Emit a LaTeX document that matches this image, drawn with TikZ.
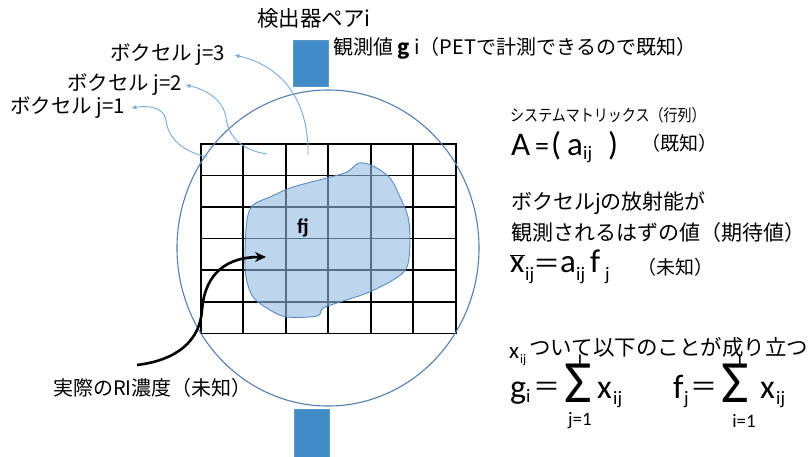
\documentclass[tikz,border=0pt]{standalone}
\usepackage{fontspec}
\setmainfont{Carlito}
\newfontfamily\jp{Noto Sans CJK JP}
\newfontfamily\jpn[FakeStretch=0.85]{Noto Sans CJK JP}
\usetikzlibrary{arrows.meta}
\definecolor{detblue}{RGB}{64,140,200}
\definecolor{detline}{RGB}{95,150,200}
\definecolor{ringblue}{RGB}{84,128,178}
\definecolor{arrblue}{RGB}{120,170,220}
\definecolor{blobfill}{RGB}{145,188,227}
\definecolor{blobline}{RGB}{90,140,190}
\newcommand\setfs[1]{\fontsize{#1}{#1}\selectfont}
\begin{document}
\begin{tikzpicture}[x=1pt,y=-1pt,
  lbl/.style={inner sep=0pt, anchor=west},
  bw/.style={inner sep=0pt, anchor=base west},
  detector/.style={draw=detline, fill=detblue, line width=0.6pt, minimum width=35pt, minimum height=46pt, inner sep=0pt},
  gridline/.style={line width=1.6pt, black, line cap=rect},
  bluearr/.style={arrblue, line width=0.9pt, -{Latex[length=5pt,width=4.5pt]}},
  sig/.style={inner sep=0pt, anchor=base, text height=27pt, text depth=0pt}
]
\useasboundingbox (0,0) rectangle (810,456);
\fill[white] (0,0) rectangle (810,456);

% detectors
\node[detector] (dettop) at (311,63.7) {};
\node[detector, minimum height=48pt] (detbot) at (311.5,433) {};

% grid
\foreach \i in {0,...,6} \draw[gridline] ({200.7+\i*42.5},144) -- ({200.7+\i*42.5},333.3);
\foreach \j in {0,...,6} \draw[gridline] (200.7,{144+\j*31.55}) -- (455.7,{144+\j*31.55});

% blob
\draw[blobline, line width=0.9pt, fill=blobfill, fill opacity=0.6]
  plot[smooth cycle, tension=0.55] coordinates {(359,163) (373,166) (390,178) (400,197) (408,217) (410,240) (407,267) (393,280) (367,293) (340,302) (323,308) (317,316) (287,317) (270,310) (253,297) (246,277) (245,253) (247,220) (253,205) (270,197) (293,187) (327,178) (347,172)};

% ring
\draw[ringblue, line width=1.1pt] (328,248) ellipse [x radius=151pt, y radius=158pt];

% labels (left / top)
\node[lbl] (dettxt) at (257,18) {\jp\setfs{21.5}検出器ペアi};
\node[lbl] (obs) at (333,48) {\jp\setfs{20}観測値 {\bfseries g} i（PETで計測できるので既知）};
\node[lbl] (v3) at (110,55) {\jp\setfs{20.5}ボクセル j=3};
\node[lbl] (v2) at (67,85) {\jp\setfs{20.5}ボクセル j=2};
\node[lbl] (v1) at (10,108) {\jp\setfs{20.5}ボクセル j=1};
\node[lbl] (ri) at (53,388) {\jp\setfs{20}実際のRI濃度（未知）};
\node[inner sep=0pt] (fj) at (303,228) {\setfs{21}\bfseries fj};

% blue arrows from voxels
\coordinate (s1) at (207,157);
\coordinate (s2) at (267,154);
\coordinate (s3) at (308,155);
\draw[bluearr] (s1) .. controls (185,152) and (168,140) .. (166,120) .. controls (164,108) and (150,105) .. ([xshift=6pt]v1.east);
\draw[bluearr] (s2) .. controls (240,150) and (228,135) .. (226,118) .. controls (224,100) and (205,89) .. ([xshift=3pt]v2.east);
\draw[bluearr] (s3) .. controls (309,110) and (290,68) .. ([xshift=9pt]v3.east);

% black arrow
\coordinate (rs) at (137,365);
\coordinate (rt) at (266,257);
\draw[line width=2.6pt, -{Stealth[length=11pt,width=10pt]}] (rs) .. controls (178,360) and (200,340) .. (202,310) .. controls (205,272) and (228,257) .. (rt);

% right side texts
\node[lbl] (sysm) at (510,115) {\jpn\setfs{16.5}システムマトリックス（行列）};
\node[bw] (Aa) at (511,155) {\setfs{33}A};
\node[bw] (Aeq) at (535,155) {\setfs{28}=};
\node[bw] (Alp) at (551,155) {\setfs{33}(};
\node[bw] (Aal) at (567,155) {\setfs{33}a};
\node[bw] (Aij) at (583,159) {\setfs{19}ij};
\node[bw] (Arp) at (608,155) {\setfs{33})};
\node[lbl] (Akn) at (641,143) {\jp\setfs{19}（既知）};

\node[lbl] (exp1) at (511,203) {\jp\setfs{21}ボクセルjの放射能が};
\node[lbl] (exp2) at (511,233) {\jp\setfs{21}観測されるはずの値（期待値）};

\node[bw] (xb) at (510,272) {\setfs{33}$\overline{\hbox{x}}$};
\node[bw] (xbij) at (525,280) {\setfs{19}ij};
\node[inner sep=0pt] (xeq) at (547,266) {\jp\setfs{27}＝};
\node[bw] (xa) at (560,272) {\setfs{33}a};
\node[bw] (xaij) at (576,280) {\setfs{19}ij};
\node[bw] (xf) at (590,272) {\setfs{33}f};
\node[bw] (xfj) at (605,280) {\setfs{19}j};
\node[lbl] (xun) at (637,267) {\jp\setfs{19}（未知）};

\node[bw] (xs) at (509,358) {\setfs{23}x};
\node[bw] (xsij) at (520,363) {\setfs{13}ij};
\node[lbl] (rel) at (529,347) {\jp\setfs{21.5}ついて以下のことが成り立つ};

% formula 1
\node[bw] (g) at (510,398) {\setfs{34}g};
\node[bw] (gi) at (526,402) {\setfs{19}i};
\node[inner sep=0pt] (geq) at (547,389) {\jp\setfs{27}＝};
\node[sig] (sig1) at (578,402) {\setfs{40}\scalebox{1.5}[1.5]{Σ}};
\node[inner sep=0pt] (J) at (579,361) {\setfs{18}J};
\node[inner sep=0pt] (j1) at (580,421) {\setfs{19}j=1};
\node[bw] (x1) at (597,398) {\setfs{34}x};
\node[bw] (x1ij) at (613,404) {\setfs{19}ij};

% formula 2
\node[bw] (f) at (673,398) {\setfs{34}f};
\node[bw] (fjs) at (684,404) {\setfs{19}j};
\node[inner sep=0pt] (feq) at (704,389) {\jp\setfs{27}＝};
\node[sig] (sig2) at (735,402) {\setfs{40}\scalebox{1.5}[1.5]{Σ}};
\node[inner sep=0pt] (I) at (740,361) {\setfs{18}I};
\node[inner sep=0pt] (i1) at (744,421) {\setfs{19}i=1};
\node[bw] (x2) at (760,398) {\setfs{34}x};
\node[bw] (x2ij) at (776,404) {\setfs{19}ij};
\end{tikzpicture}
\end{document}
